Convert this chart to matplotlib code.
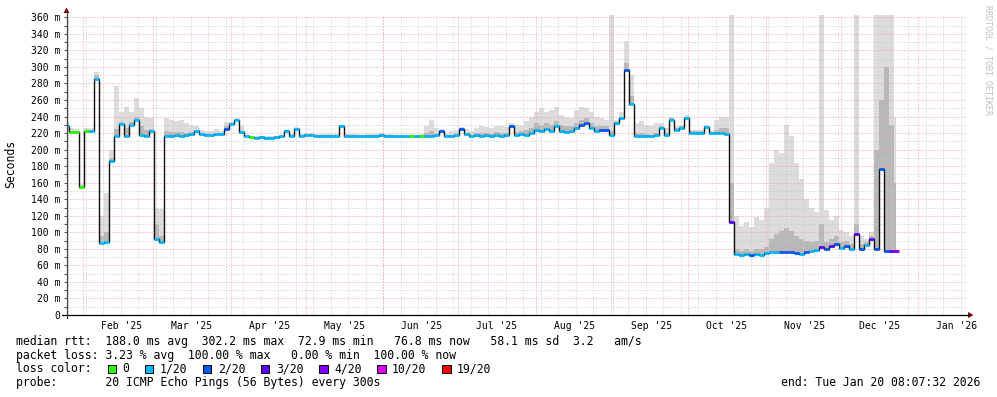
import datetime as dt
import numpy as np
import matplotlib
matplotlib.use("Agg")
import matplotlib.pyplot as plt
import matplotlib.dates as mdates
from matplotlib.lines import Line2D
from matplotlib.patches import Rectangle, Polygon
from matplotlib.ticker import MultipleLocator

plt.rcParams['font.family'] = 'DejaVu Sans Mono'

# 360 day window ending at the stamp, one sample every 2 days
end = dt.datetime(2026, 1, 20, 8, 7, 32)
start = end - dt.timedelta(days=360)
step = 2

# median rtt in ms
median = [
    229, 221, 221, 155, 222, 222, 286, 87, 88, 186,
    217, 231, 217, 230, 236, 218, 217, 222, 92, 88,
    217, 217, 218, 217, 218, 219, 223, 219, 218, 218,
    219, 219, 225, 231, 236, 221, 216, 215, 214, 215,
    214, 214, 215, 216, 223, 217, 225, 217, 218, 218,
    217, 217, 217, 217, 217, 228, 217, 217, 217, 216,
    217, 217, 217, 218, 217, 217, 216, 216, 216, 216,
    216, 217, 217, 217, 218, 222, 217, 217, 218, 225,
    219, 217, 218, 217, 218, 217, 218, 217, 218, 228,
    218, 219, 218, 220, 224, 222, 225, 222, 228, 223,
    221, 222, 226, 230, 232, 226, 222, 224, 224, 218,
    232, 238, 296, 255, 217, 217, 216, 216, 218, 226,
    218, 236, 224, 226, 238, 220, 220, 220, 227, 220,
    220, 220, 219, 112, 74, 73, 74, 73, 74, 73,
    75, 76, 76, 76, 76, 76, 75, 74, 76, 77,
    79, 82, 80, 83, 86, 81, 83, 80, 98, 80,
    85, 92, 80, 176, 78, 77, 77,
]

# highest ping of each sample (smoke top)
smoke_top = [
    233, 226, 225, 158, 226, 226, 294, 120, 148, 200,
    277, 245, 252, 245, 263, 250, 240, 238, 130, 128,
    238, 236, 235, 236, 232, 230, 228, 224, 222, 222,
    225, 222, 233, 233, 238, 228, 218, 217, 216, 217,
    216, 216, 217, 218, 225, 219, 227, 219, 220, 220,
    219, 219, 219, 219, 219, 230, 219, 219, 219, 218,
    219, 219, 219, 220, 219, 219, 218, 218, 218, 218,
    218, 219, 228, 236, 226, 225, 219, 222, 224, 227,
    225, 222, 226, 228, 227, 226, 228, 229, 227, 232,
    230, 228, 235, 240, 245, 250, 245, 248, 252, 242,
    240, 238, 248, 252, 250, 246, 240, 238, 236, 400,
    236, 245, 331, 290, 232, 235, 230, 228, 232, 232,
    226, 240, 228, 230, 242, 224, 224, 224, 230, 223,
    236, 240, 240, 400, 120, 108, 112, 106, 118, 115,
    130, 184, 200, 196, 230, 216, 184, 165, 140, 130,
    125, 400, 127, 115, 120, 103, 100, 95, 400, 95,
    92, 100, 400, 400, 400, 400, 240,
]

# inner (darker) smoke band
smoke_mid = [
    231, 223, 222, 156, 223, 223, 290, 95, 100, 190,
    225, 234, 226, 233, 240, 228, 224, 225, 110, 95,
    222, 221, 221, 221, 220, 221, 224, 220, 219, 219,
    220, 220, 228, 232, 237, 223, 217, 216, 215, 216,
    215, 215, 216, 217, 224, 218, 226, 218, 219, 219,
    218, 218, 218, 218, 218, 229, 218, 218, 218, 217,
    218, 218, 218, 219, 218, 218, 217, 217, 217, 217,
    217, 218, 220, 222, 219, 223, 218, 218, 219, 226,
    220, 218, 220, 220, 220, 219, 221, 220, 220, 230,
    221, 222, 224, 226, 232, 230, 232, 230, 235, 230,
    228, 228, 232, 236, 238, 232, 228, 228, 228, 222,
    234, 240, 305, 265, 220, 220, 219, 218, 220, 228,
    220, 238, 226, 228, 240, 222, 222, 222, 228, 221,
    224, 226, 226, 160, 80, 78, 80, 78, 80, 80,
    82, 92, 98, 102, 105, 102, 96, 92, 90, 88,
    90, 110, 88, 92, 95, 88, 90, 86, 110, 86,
    88, 95, 200, 260, 300, 230, 160,
]

# loss class index per sample (into loss_labels)
loss = [
    1, 0, 0, 0, 0, 1, 1, 1, 1, 1,
    1, 1, 1, 1, 1, 1, 1, 1, 1, 1,
    1, 1, 1, 1, 1, 1, 1, 1, 1, 1,
    1, 1, 2, 1, 1, 1, 1, 0, 1, 1,
    1, 1, 1, 1, 1, 1, 1, 1, 1, 1,
    1, 1, 1, 1, 1, 1, 1, 1, 1, 1,
    1, 1, 1, 1, 1, 1, 1, 1, 1, 0,
    1, 0, 1, 1, 1, 2, 1, 1, 1, 2,
    1, 1, 1, 1, 1, 1, 1, 1, 1, 2,
    1, 1, 1, 1, 1, 1, 1, 1, 1, 1,
    1, 1, 1, 2, 2, 1, 1, 2, 2, 1,
    1, 1, 2, 1, 1, 1, 1, 1, 1, 1,
    1, 1, 1, 1, 1, 1, 1, 1, 1, 1,
    1, 1, 1, 3, 1, 1, 1, 2, 1, 1,
    1, 1, 1, 2, 2, 2, 2, 1, 2, 1,
    1, 3, 2, 3, 2, 1, 2, 1, 3, 2,
    1, 3, 2, 2, 2, 3, 4,
]

loss_labels = ['0', '1/20', '2/20', '3/20', '4/20', '10/20', '19/20']
loss_colors = ['#26ff00', '#00b8ff', '#0059ff', '#5e00ff', '#7e00ff', '#dd00ff', '#ff0000']

stats = "median rtt:  188.0 ms avg  302.2 ms max  72.9 ms min   76.8 ms now   58.1 ms sd  3.2   am/s"
loss_line = "packet loss: 3.23 % avg  100.00 % max   0.00 % min  100.00 % now"
probe_line = "probe:       20 ICMP Echo Pings (56 Bytes) every 300s"
end_line = "end: Tue Jan 20 08:07:32 2026"

W, H = 997, 397
fig = plt.figure(figsize=(W / 100, H / 100), dpi=100)
ax = fig.add_axes([66.5 / W, 1 - 315 / H, 900 / W, 300 / H])

t = np.array([mdates.date2num(start + dt.timedelta(days=step * i)) for i in range(len(median))])
med = np.array(median, float)

ax.fill_between(t, med, smoke_top, step='mid', color='#dcdcdc', lw=0, zorder=1)
ax.fill_between(t, med, smoke_mid, step='mid', color='#b8b8b8', lw=0, zorder=1.5)

x0, x1 = mdates.date2num(start), mdates.date2num(end)
ax.set_xlim(x0, x1)
ax.set_ylim(0, 362.8)

# grid
grid_gray = '#c8c8c8'
grid_red = '#eca0a0'
ax.yaxis.set_major_locator(MultipleLocator(20))
ax.yaxis.set_minor_locator(MultipleLocator(10))
ax.grid(which='minor', axis='y', color=grid_gray, lw=0.72, ls=(0, (1, 2)), zorder=2)
ax.grid(which='major', axis='y', color=grid_red, lw=0.72, ls=(0, (1, 2)), zorder=2)
ax.set_axisbelow(False)

weeks = mdates.WeekdayLocator(byweekday=mdates.SU).tick_values(start, end)
for w in weeks:
    if x0 < w < x1:
        ax.axvline(w, color=grid_gray, lw=0.72, ls=(0, (1, 2)), zorder=2)
month_starts = mdates.MonthLocator().tick_values(start, end)
for m in month_starts:
    if x0 < m < x1:
        ax.axvline(m, color=grid_red, lw=0.72, ls=(0, (1, 2)), zorder=2)

# median line and loss colours
ax.step(t, med, where='mid', color='#101010', lw=1.0, zorder=3)
ax.hlines(med, t - step / 2, t + step / 2, colors=[loss_colors[k] for k in loss], lw=2.0, zorder=4)

# ticks
lab_pos = [m + 15.5 for m in month_starts if x0 < m + 15.5 < x1]
ax.set_xticks(lab_pos)
ax.set_xticklabels([mdates.num2date(p).strftime("%b '%y") for p in lab_pos], fontsize=7)
ax.tick_params(axis='x', length=0, pad=4)
ax.set_yticks(range(0, 361, 20))
ax.set_yticklabels(['0'] + ['%d m' % v for v in range(20, 361, 20)], fontsize=7)
ax.tick_params(axis='y', which='both', length=2.5, width=0.72, color='#555555', pad=2)

for s in ax.spines.values():
    s.set_visible(False)

# axes with arrows
fig.add_artist(Line2D([62 / W, 969 / W], [1 - 315 / H, 1 - 315 / H], color='#000000', lw=0.9))
fig.add_artist(Line2D([66.5 / W, 66.5 / W], [1 - 318 / H, 1 - 12 / H], color='#444444', lw=0.9))
fig.add_artist(Polygon([[968 / W, 1 - 312 / H], [968 / W, 1 - 318 / H], [973.5 / W, 1 - 315 / H]],
                       closed=True, color='#8b0000', lw=0))
fig.add_artist(Polygon([[63.5 / W, 1 - 13 / H], [69.5 / W, 1 - 13 / H], [66.5 / W, 1 - 7.5 / H]],
                       closed=True, color='#8b0000', lw=0))

fig.text(10.5 / W, 1 - 164 / H, 'Seconds', rotation=90, ha='center', va='center', fontsize=8.3)
fig.text(987.5 / W, 1 - 60 / H, 'RRDTOOL / TOBI OETIKER', rotation=270, ha='center', va='center',
         fontsize=6, color='#c0c0c0')

# legend block
cw = 6.95
fs = 8.3
fig.text(16 / W, 1 - 341.7 / H, stats, ha='left', va='center', fontsize=fs)
fig.text(16 / W, 1 - 355 / H, loss_line, ha='left', va='center', fontsize=fs)
fig.text(16 / W, 1 - 369 / H, 'loss color:', ha='left', va='center', fontsize=fs)
fig.text(16 / W, 1 - 382.7 / H, probe_line, ha='left', va='center', fontsize=fs)
fig.text(980 / W, 1 - 382.7 / H, end_line, ha='right', va='center', fontsize=fs)

pos = 13.2
for lab, col in zip(loss_labels, loss_colors):
    bx = 16 + pos * cw
    fig.add_artist(Rectangle((bx / W, 1 - 373.3 / H), 8.5 / W, 8.5 / H, facecolor=col,
                             edgecolor='#000000', lw=0.7))
    fig.text((16 + (pos + 2.15) * cw) / W, 1 - 369 / H, lab, ha='left', va='center', fontsize=fs)
    pos += 2.15 + len(lab) + 2.2

fig.savefig('out.png', dpi=100, facecolor='white')
